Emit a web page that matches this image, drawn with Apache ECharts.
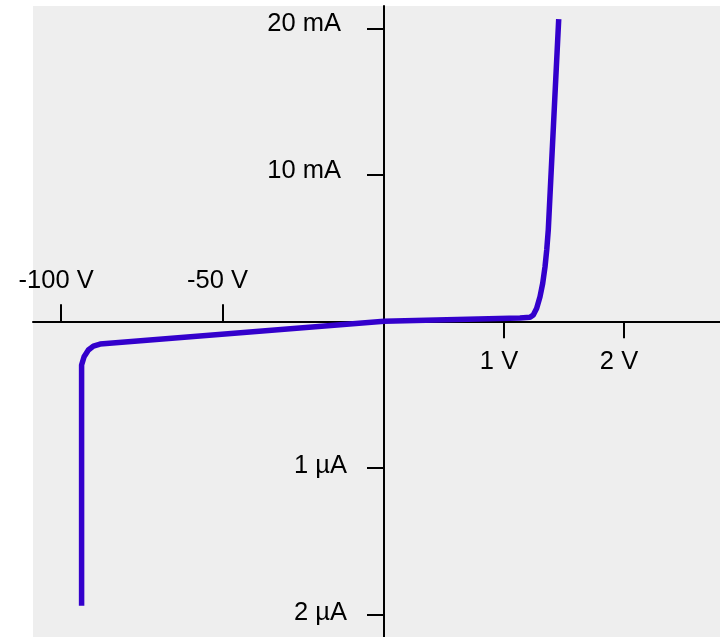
<!DOCTYPE html>
<html>
<head>
<meta charset="utf-8">
<script src="https://cdn.jsdelivr.net/npm/echarts@6/dist/echarts.min.js"></script>
<style>
html,body{margin:0;padding:0;background:#fff;}
#chart{width:720px;height:637px;}
</style>
</head>
<body>
<div id="chart"></div>
<script>
// Reverse-bias branch (volts, microamps)
var revVolts = [-93.65, -93.65, -93.6, -92.88, -91.55, -90.0, -87.93, 0];
var revMicroAmps = [-1.941, -0.298, -0.287, -0.242, -0.196, -0.169, -0.155, 0];
// Forward-bias branch (volts, milliamps)
var fwdVolts = [0, 1.133, 1.217, 1.244, 1.2725, 1.3, 1.3225, 1.342, 1.356, 1.369, 1.456];
var fwdMilliAmps = [0, 0.225, 0.273, 0.43, 0.887, 1.68, 2.59, 3.73, 4.87, 6.23, 20.63];

// Tick values and labels
var revVoltTicks = [-100, -50];
var revVoltLabels = ['-100 V', '-50 V'];
var fwdVoltTicks = [1, 2];
var fwdVoltLabels = ['1 V', '2 V'];
var fwdCurrentTicks = [10, 20];
var fwdCurrentLabels = ['10 mA', '20 mA'];
var revCurrentTicks = [-1, -2];
var revCurrentLabels = ['1 µA', '2 µA'];

function lookup(ticks, labels) {
  return function (v) {
    for (var i = 0; i < ticks.length; i++) {
      if (Math.abs(ticks[i] - v) < 1e-6) return labels[i];
    }
    return '';
  };
}
function pairs(xs, ys) {
  return xs.map(function (x, i) { return [x, ys[i]]; });
}

var FONT = 'Liberation Sans, Arial, Helvetica, sans-serif';
var lineStyle = { color: '#000', width: 2 };
var tickStyle = { color: '#000', width: 2 };
var labelBase = { color: '#000', fontSize: 25.5, fontFamily: FONT };
var CURVE = '#3300cc';

var chart = echarts.init(document.getElementById('chart'), null, { renderer: 'canvas' });
chart.setOption({
  animation: false,
  backgroundColor: '#ffffff',
  graphic: [{
    type: 'rect', z: -10, silent: true,
    shape: { x: 33, y: 6, width: 687, height: 631 },
    style: { fill: '#eeeeee' }
  }],
  grid: [
    { left: 33, right: 336, top: 321.3, bottom: 0, containLabel: false },
    { left: 384, right: 0, top: 6, bottom: 315.7, containLabel: false }
  ],
  xAxis: [
    {
      gridIndex: 0, type: 'value', position: 'top', min: -108.7, max: 0,
      axisLine: { show: true, onZero: false, lineStyle: lineStyle },
      axisTick: { show: true, inside: false, length: 17, lineStyle: tickStyle, customValues: revVoltTicks },
      axisLabel: Object.assign({}, labelBase, { margin: 27, padding: [0, 10, 0, 0], customValues: revVoltTicks, formatter: lookup(revVoltTicks, revVoltLabels) }),
      splitLine: { show: false }
    },
    {
      gridIndex: 1, type: 'value', position: 'bottom', min: 0, max: 2.8,
      axisLine: { show: true, onZero: false, lineStyle: lineStyle },
      axisTick: { show: true, inside: false, length: 17, lineStyle: tickStyle, customValues: fwdVoltTicks },
      axisLabel: Object.assign({}, labelBase, { margin: 28, padding: [0, 10, 0, 0], customValues: fwdVoltTicks, formatter: lookup(fwdVoltTicks, fwdVoltLabels) }),
      splitLine: { show: false }
    }
  ],
  yAxis: [
    {
      gridIndex: 0, type: 'value', position: 'right', min: -2.155, max: 0,
      axisLine: { show: true, onZero: false, lineStyle: lineStyle },
      axisTick: { show: true, inside: true, length: 17, lineStyle: tickStyle, customValues: revCurrentTicks },
      axisLabel: Object.assign({}, labelBase, { inside: true, margin: 37, verticalAlign: 'bottom', lineHeight: 3, customValues: revCurrentTicks, formatter: lookup(revCurrentTicks, revCurrentLabels) }),
      splitLine: { show: false }
    },
    {
      gridIndex: 1, type: 'value', position: 'left', min: 0, max: 21.52,
      axisLine: { show: true, onZero: false, lineStyle: lineStyle },
      axisTick: { show: true, inside: false, length: 17, lineStyle: tickStyle, customValues: fwdCurrentTicks },
      axisLabel: Object.assign({}, labelBase, { margin: 43, verticalAlign: 'bottom', lineHeight: 8, customValues: fwdCurrentTicks, formatter: lookup(fwdCurrentTicks, fwdCurrentLabels) }),
      splitLine: { show: false }
    }
  ],
  series: [
    {
      type: 'line', xAxisIndex: 0, yAxisIndex: 0,
      data: pairs(revVolts, revMicroAmps),
      showSymbol: false, symbol: 'none', smooth: false, clip: false,
      lineStyle: { color: CURVE, width: 5.5, join: 'round' }
    },
    {
      type: 'line', xAxisIndex: 1, yAxisIndex: 1,
      data: pairs(fwdVolts, fwdMilliAmps),
      showSymbol: false, symbol: 'none', smooth: false, clip: false,
      lineStyle: { color: CURVE, width: 5.5, join: 'round' }
    }
  ]
});
</script>
</body>
</html>
